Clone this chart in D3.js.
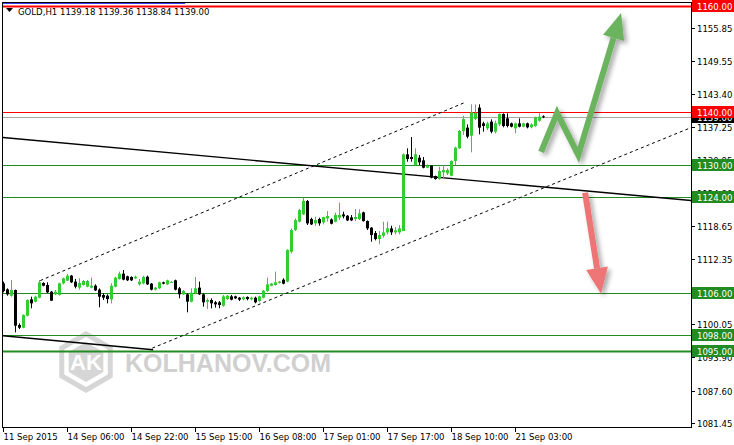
<!DOCTYPE html>
<html><head><meta charset="utf-8">
<script src="https://cdn.jsdelivr.net/npm/d3@7"></script>
<style>body{margin:0;background:#fff}svg{display:block}</style>
</head><body>
<svg id="c" width="734" height="445"></svg>
<script>
// ---------- DATA ----------
const symbol = "GOLD,H1";
const lastQuote = ["1139.18","1139.36","1138.84","1139.00"];
const opens = [1107.78,1106.65,1105.46,1106.53,1099.94,1099.44,1101.70,1104.77,1104.33,1105.08,
1107.85,1107.47,1106.21,1105.71,1105.59,1107.78,1108.28,1109.22,1108.10,1106.97,
1107.47,1107.15,1106.97,1107.34,1106.59,1105.59,1105.46,1104.77,1107.15,1108.60,
1109.60,1109.10,1108.97,1108.72,1107.59,1107.78,1109.03,1107.72,1106.59,1106.84,
1107.97,1107.59,1108.00,1108.35,1106.84,1105.71,1105.71,1104.33,1105.90,1106.97,
1105.71,1104.33,1104.65,1104.21,1104.21,1103.58,1104.83,1105.33,1105.33,1105.08,
1104.77,1105.21,1104.77,1105.08,1104.46,1105.08,1106.34,1107.34,1107.47,1107.85,
1108.47,1108.10,1113.72,1117.80,1119.37,1120.74,1123.25,1119.87,1119.05,1119.87,
1119.24,1119.99,1119.80,1119.37,1120.12,1120.74,1120.49,1120.18,1119.87,1119.87,
1121.12,1119.49,1118.24,1117.23,1116.11,1116.73,1117.36,1118.11,1117.36,1117.36,
1117.61,1132.03,1131.53,1130.02,1131.40,1130.90,1129.52,1129.90,1127.95,1127.39,
1128.64,1128.46,1128.02,1130.78,1133.16,1136.42,1137.05,1135.54,1138.68,1140.81,
1137.86,1136.92,1138.17,1136.29,1137.67,1139.62,1138.80,1137.86,1136.92,1137.86,
1137.23,1137.86,1137.11,1137.36,1138.36,1139.18];
const highs = [1108.10,1106.84,1108.41,1106.60,1100.26,1101.95,1104.77,1105.27,1105.46,1108.41,
1107.97,1107.97,1106.34,1106.53,1107.91,1108.85,1109.54,1109.35,1108.60,1108.72,
1108.41,1108.41,1108.85,1107.59,1106.84,1105.90,1105.71,1107.78,1109.03,1109.98,
1110.29,1109.22,1109.10,1109.22,1108.60,1109.22,1109.22,1107.85,1107.09,1108.10,
1108.10,1108.47,1108.20,1108.47,1107.09,1106.53,1105.90,1106.84,1108.97,1108.10,
1105.90,1104.96,1104.96,1104.46,1104.46,1105.59,1105.59,1105.59,1105.46,1105.21,
1105.33,1105.33,1105.27,1105.27,1105.46,1106.53,1108.85,1107.85,1109.98,1108.22,
1108.72,1114.20,1118.11,1119.99,1121.75,1123.88,1123.44,1120.12,1120.30,1120.12,
1120.30,1121.37,1119.99,1121.06,1122.94,1121.25,1120.62,1120.62,1121.75,1121.68,
1121.25,1119.62,1118.36,1117.61,1117.61,1119.37,1119.37,1118.61,1118.36,1118.74,
1132.22,1133.16,1135.29,1133.16,1131.90,1131.53,1130.15,1129.95,1128.02,1129.71,
1130.02,1129.40,1130.90,1133.47,1136.61,1139.30,1137.67,1141.43,1141.43,1141.43,
1138.17,1138.17,1138.61,1138.36,1139.74,1139.74,1139.74,1137.99,1137.99,1138.80,
1137.99,1137.99,1137.86,1139.11,1139.74,1139.36];
const lows = [1106.09,1105.46,1105.27,1098.56,1099.19,1099.32,1101.57,1103.08,1104.21,1104.96,
1107.22,1105.96,1104.46,1105.59,1105.46,1107.59,1108.22,1107.85,1106.84,1106.59,
1107.34,1107.03,1106.84,1106.34,1103.27,1104.65,1104.02,1104.02,1107.03,1108.47,
1108.35,1108.22,1108.22,1108.60,1107.34,1107.59,1107.47,1106.46,1106.46,1106.72,
1107.59,1107.47,1107.90,1106.46,1104.96,1105.59,1102.33,1104.21,1105.71,1105.59,
1103.40,1102.95,1103.08,1103.21,1103.08,1103.40,1104.65,1104.58,1104.83,1104.46,
1104.58,1104.58,1104.58,1104.02,1104.21,1104.96,1106.21,1107.22,1107.34,1107.72,
1107.59,1107.97,1113.41,1117.61,1119.24,1120.62,1118.74,1118.74,1118.61,1118.61,
1118.86,1119.37,1118.86,1119.24,1119.68,1119.99,1119.49,1119.49,1119.49,1119.68,
1119.37,1117.80,1115.61,1115.86,1115.11,1116.36,1116.98,1116.86,1116.98,1116.98,
1117.61,1130.65,1130.65,1129.90,1130.02,1129.40,1129.40,1127.52,1127.27,1127.27,
1127.52,1128.15,1127.89,1130.02,1133.03,1135.67,1135.04,1132.41,1138.49,1135.79,
1136.29,1136.61,1135.98,1135.98,1137.36,1137.11,1137.11,1137.11,1135.98,1137.11,
1137.11,1136.92,1136.92,1137.23,1138.17,1138.84];
const closes = [1106.34,1105.71,1106.53,1099.82,1099.44,1101.82,1104.65,1104.02,1105.27,1107.97,
1107.34,1106.09,1104.52,1106.21,1107.78,1108.72,1109.22,1107.97,1107.15,1107.85,
1108.22,1108.22,1107.34,1106.46,1105.27,1105.08,1104.83,1107.34,1108.85,1109.60,
1108.47,1108.35,1108.35,1109.03,1108.10,1108.97,1107.59,1106.59,1106.97,1107.97,
1107.72,1108.35,1108.05,1106.59,1105.71,1106.34,1104.33,1106.03,1106.84,1105.71,
1104.21,1104.65,1104.02,1103.83,1103.71,1105.33,1105.46,1104.71,1104.96,1104.71,
1105.15,1104.83,1105.08,1104.21,1105.33,1106.40,1107.59,1107.72,1107.97,1108.10,
1107.72,1114.03,1117.80,1119.68,1121.56,1123.25,1119.05,1118.86,1119.68,1119.05,
1120.24,1120.43,1118.99,1120.62,1120.62,1120.37,1119.62,1119.62,1120.24,1120.93,
1119.49,1118.11,1116.86,1116.11,1116.86,1117.36,1118.11,1117.36,1117.74,1118.11,
1132.03,1131.15,1131.15,1132.03,1130.53,1129.52,1129.90,1127.64,1127.39,1128.89,
1129.08,1129.08,1130.78,1133.28,1136.42,1138.68,1135.35,1139.93,1139.80,1137.05,
1137.36,1137.86,1136.29,1137.86,1139.62,1137.36,1137.36,1137.23,1137.86,1137.23,
1137.86,1137.11,1137.67,1138.99,1139.11,1139.00];

const timeTickIndex = [0,16,32,48,64,80,96,112,128];
const timeTickLabels = ["11 Sep 2015","14 Sep 06:00","14 Sep 22:00","15 Sep 15:00","16 Sep 08:00","17 Sep 01:00","17 Sep 17:00","18 Sep 10:00","21 Sep 03:00"];
const priceTicks = [1155.85,1149.55,1143.40,1137.25,1130.95,1124.80,1118.65,1112.35,1106.20,1100.05,1093.90,1087.60,1081.45];

// horizontal levels: price, kind
const levelPrices = [1160.00,1140.00,1130.00,1124.00,1106.00,1098.00,1095.00];
const levelKinds  = ["red","red","green","green","green","green","greenThick"];
const bidPrice = 1139.00;

// trend lines as [index, price] pairs
const trendSolidA = [[-0.9,1135.25],[172,1123.35]];
const trendSolidB = [[-0.9,1097.98],[37.4,1095.29]];
const channelUpper = [[9.2,1108.3],[115.4,1141.8]];
const channelLower = [[37.2,1095.6],[172,1137.1]];
const blueTop = [[-0.9,1160.55],[45.4,1160.55]];

// forecast arrows as [index, price]
const arrowUp = [[134.4,1132.5],[138.4,1139.8],[143.7,1131.9],[154.4,1158.6]];
const arrowDown = [[145.4,1124.8],[149.4,1105.8]];

// ---------- CHART ----------
const svg = d3.select("#c");
const L=3, R=691, T=2, B=427;
const x = d3.scaleLinear().domain([0,135]).range([3.5,543.5]);
const y = d3.scaleLinear().domain([1080.77,1161.05]).range([427,0]);
const font = "Tahoma, 'DejaVu Sans Condensed', 'Liberation Sans', sans-serif";

svg.append("rect").attr("width",734).attr("height",445).attr("fill","#fff");

const defs = svg.append("defs");
defs.append("clipPath").attr("id","plot").append("rect").attr("x",L).attr("y",T).attr("width",R-L).attr("height",B-T);
const f = defs.append("filter").attr("id","sh").attr("x","-50%").attr("y","-50%").attr("width","200%").attr("height","200%");
f.append("feGaussianBlur").attr("in","SourceAlpha").attr("stdDeviation",2.5).attr("result","b");
f.append("feOffset").attr("in","b").attr("dx",3).attr("dy",3).attr("result","o");
f.append("feComponentTransfer").attr("in","o").attr("result","o2").append("feFuncA").attr("type","linear").attr("slope",0.35);
const fm = f.append("feMerge"); fm.append("feMergeNode").attr("in","o2"); fm.append("feMergeNode").attr("in","SourceGraphic");

const g = svg.append("g").attr("clip-path","url(#plot)");

// watermark
const wm = g.append("g");
const hx = 86, hy = 362;
function hexPts(r){return d3.range(6).map(k=>{const a=Math.PI/3*k-Math.PI/2;return [hx+r*Math.cos(a),hy+r*Math.sin(a)];});}
wm.append("polygon").attr("points",hexPts(28).map(p=>p.join(",")).join(" ")).attr("fill","none").attr("stroke","#d6d6d6").attr("stroke-width",5);
wm.append("polygon").attr("points",hexPts(20).map(p=>p.join(",")).join(" ")).attr("fill","#d6d6d6");
wm.append("text").attr("x",hx).attr("y",hy+8).attr("text-anchor","middle").attr("font-family","'Liberation Sans',Arial,sans-serif").attr("font-weight","bold").attr("font-size",22).attr("fill","#fff").text("AK");
wm.append("text").attr("x",125).attr("y",372).attr("font-family","'Liberation Sans',Arial,sans-serif").attr("font-weight","bold").attr("font-size",25).attr("fill","#d0d0d0").text("KOLHANOV.COM");

const line = d3.line().x(d=>x(d[0])).y(d=>y(d[1]));

// horizontal levels
levelPrices.forEach((p,k)=>{
  const kind = levelKinds[k];
  const yy = Math.round(y(p))+0.5;
  g.append("line").attr("x1",L).attr("x2",R).attr("y1",yy).attr("y2",yy)
   .attr("stroke", kind==="red" ? "#ff0000" : "#228b22")
   .attr("stroke-width", kind==="greenThick" ? 2 : (p===1160 ? 2 : 1));
});
// bid line
g.append("line").attr("x1",L).attr("x2",R).attr("y1",Math.round(y(bidPrice))+0.5).attr("y2",Math.round(y(bidPrice))+0.5).attr("stroke","#a9a9a9").attr("stroke-width",1);

// trend lines
g.append("path").attr("d",line(blueTop)).attr("stroke","#0000ff").attr("stroke-width",2).attr("fill","none");
g.append("path").attr("d",line(trendSolidA)).attr("stroke","#000").attr("stroke-width",1.3).attr("fill","none");
g.append("path").attr("d",line(trendSolidB)).attr("stroke","#000").attr("stroke-width",1.3).attr("fill","none");
[channelUpper,channelLower].forEach(c=>g.append("path").attr("d",line(c)).attr("stroke","#000").attr("stroke-width",1).attr("stroke-dasharray","3,3").attr("fill","none"));

// candles
const idx = d3.range(opens.length);
const up = i => closes[i] >= opens[i];
const col = i => up(i) ? "#32cd32" : "#000000";
g.selectAll(".wick").data(idx).join("line")
  .attr("x1",i=>x(i)).attr("x2",i=>x(i))
  .attr("y1",i=>y(highs[i])).attr("y2",i=>y(lows[i]))
  .attr("stroke",col).attr("stroke-width",1);
g.selectAll(".body").data(idx).join("rect")
  .attr("x",i=>x(i)-1.5).attr("width",3)
  .attr("y",i=>y(Math.max(opens[i],closes[i])))
  .attr("height",i=>Math.max(1,Math.abs(y(opens[i])-y(closes[i]))))
  .attr("fill",col);

// arrows
function arrow(pts,color){
  const P = pts.map(d=>[x(d[0]),y(d[1])]);
  const n=P.length, a=P[n-2], b=P[n-1];
  const dx=b[0]-a[0], dy=b[1]-a[1], len=Math.hypot(dx,dy), ux=dx/len, uy=dy/len;
  const hl=26, hw=11;
  const base=[b[0]-ux*hl,b[1]-uy*hl];
  const shaft = P.slice(0,n-1).concat([base]);
  const ag = g.append("g").attr("filter","url(#sh)");
  ag.append("path").attr("d",d3.line()(shaft)).attr("stroke",color).attr("stroke-width",6).attr("fill","none").attr("stroke-linejoin","miter").attr("stroke-linecap","butt");
  ag.append("path").attr("d",d3.line()([[base[0]-uy*hw,base[1]+ux*hw],b,[base[0]+uy*hw,base[1]-ux*hw]])+"Z").attr("fill",color);
}
arrow(arrowUp,"#6cb35e");
arrow(arrowDown,"#ee7474");

// frame
svg.append("rect").attr("x",2.5).attr("y",2.5).attr("width",689).attr("height",425).attr("fill","none").attr("stroke","#000").attr("stroke-width",1);

// price axis
priceTicks.forEach(p=>{
  const yy=Math.round(y(p))+0.5;
  svg.append("line").attr("x1",692).attr("x2",695).attr("y1",yy).attr("y2",yy).attr("stroke","#000");
  svg.append("text").attr("x",697).attr("y",yy+3.5).attr("font-family",font).attr("font-size",9.5).attr("fill","#000").text(p.toFixed(2));
});
function tag(p,fill){
  const yy=Math.round(y(p));
  svg.append("rect").attr("x",692).attr("y",yy-6).attr("width",42).attr("height",12).attr("fill",fill);
  svg.append("text").attr("x",697).attr("y",yy+4).attr("font-family",font).attr("font-size",9.5).attr("fill","#fff").text(p.toFixed(2));
}
tag(bidPrice,"#000");
levelPrices.forEach((p,k)=>tag(p, levelKinds[k]==="red" ? "#ff0000" : "#228b22"));

// time axis
timeTickIndex.forEach((i,k)=>{
  const xx=Math.round(x(i))-0.5;
  svg.append("line").attr("x1",xx).attr("x2",xx).attr("y1",428).attr("y2",432).attr("stroke","#000");
  svg.append("text").attr("x",xx).attr("y",440).attr("font-family",font).attr("font-size",9.5).attr("fill","#000").text(timeTickLabels[k]);
});

// title
svg.append("path").attr("d","M6,8 L13,8 L9.5,12 Z").attr("fill","#000");
svg.append("text").attr("x",18).attr("y",14.5).attr("font-family",font).attr("font-size",9.5).attr("fill","#000")
  .text(symbol+"  "+lastQuote.join(" "));
</script>
</body></html>
